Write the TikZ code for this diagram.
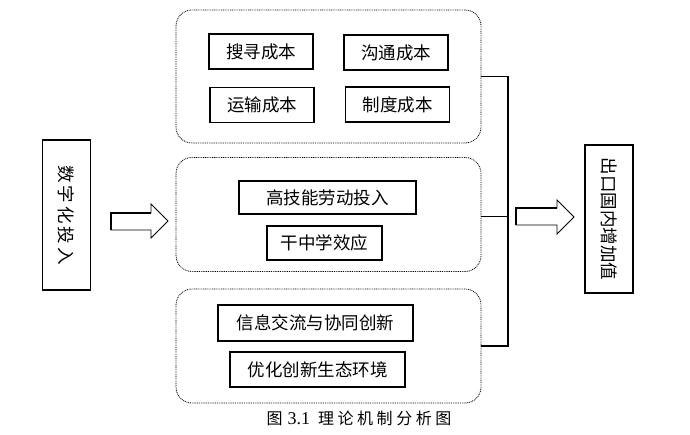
\documentclass[tikz,border=0pt]{standalone}
\usepackage{fontspec}
\setmainfont{Noto Sans CJK SC}
\newfontfamily\numfont{Liberation Serif}
\newfontfamily\capfont[LetterSpace=22]{Noto Sans CJK SC}
\usepackage{tikz}
\usetikzlibrary{shapes,arrows}

\begin{document}
\begin{tikzpicture}[x=1pt, y=-1pt,
  box/.style = {draw, line width=1.2pt, inner sep=0pt, font=\fontsize{17.5}{17.5}\selectfont},
  group/.style = {draw, line width=0.8pt, dash pattern=on 0.9pt off 0.9pt, rounded corners=16pt, inner sep=0pt},
  vbox/.style = {box, rotate=-90, minimum height=48}]
\useasboundingbox (0,0) rectangle (690,435);
% groups
\node[group, minimum width=305, minimum height=133] (gcost) at (328.5, 76.5) {};
\node[group, minimum width=305, minimum height=114] (gskill) at (328.5, 214.5) {};
\node[group, minimum width=305, minimum height=114] (ginno) at (328.5, 346) {};
% cost boxes
\node[box, minimum width=104, minimum height=35] (search) at (261, 51.5) {搜寻成本};
\node[box, minimum width=104, minimum height=35] (comm) at (396, 52.5) {沟通成本};
\node[box, minimum width=104, minimum height=35] (trans) at (262, 105) {运输成本};
\node[box, minimum width=104, minimum height=35] (inst) at (397.5, 104.5) {制度成本};
% skill boxes
\node[box, minimum width=177, minimum height=33] (labor) at (327.5, 197.5) {高技能劳动投入};
\node[box, minimum width=115, minimum height=34] (learn) at (324.5, 243) {干中学效应};
% innovation boxes
\node[box, minimum width=195, minimum height=36] (info) at (315.5, 323) {信息交流与协同创新};
\node[box, minimum width=175, minimum height=35] (eco) at (317.5, 369.5) {优化创新生态环境};
% input and output
\node[vbox, minimum width=150] (digit) at (66.5, 215) {数\,字\,化\,投\,入};
\node[vbox, minimum width=148] (value) at (609, 219) {出口国内增加值};
% block arrows
\draw[line width=0.8pt] (111,213) -- (151,213) -- (151,204) -- (168,221) -- (151,238) -- (151,230) -- (111,230) -- cycle;
\draw[line width=2.4pt] (111,230) -- (111,213) -- (151,213);
\draw[line width=0.8pt] (516,208) -- (557,208) -- (557,200) -- (574,217) -- (557,234) -- (557,225) -- (516,225) -- cycle;
\draw[line width=2.4pt] (516,225) -- (516,208) -- (557,208);
% bracket
\coordinate (jn) at (508,216);
\draw[line width=1.2pt] (gcost.east) -| (jn) |- (ginno.east);
\draw[line width=0.8pt] (gskill.east |- jn) -- (jn);
\node[font=\fontsize{16}{16}\selectfont] (cap) at (359, 418) {\capfont 图\hspace{5pt}{\numfont\fontsize{18}{18}\selectfont 3.1}\hspace{8pt}理论机制分析图};
\end{tikzpicture}
\end{document}
